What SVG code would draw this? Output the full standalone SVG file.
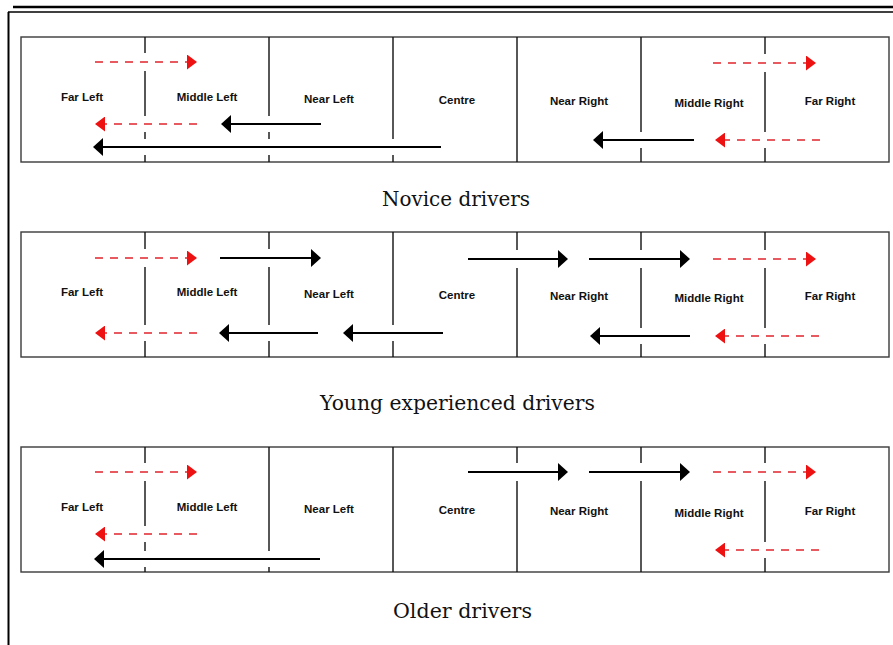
<svg xmlns="http://www.w3.org/2000/svg" width="893" height="645" viewBox="0 0 893 645">
<style>
.frame{stroke:#000;fill:none}
.panel{fill:#fff;stroke:#3a3a3a;stroke-width:1.4}
.div{stroke:#111;stroke-width:1.4}
.halo{fill:#fff}
.blk{stroke:#000;stroke-width:2;fill:none;marker-end:url(#ahB)}
.red{stroke:#e0242c;stroke-width:1.6;fill:none;stroke-dasharray:8 7;marker-end:url(#ahR)}
.lane{font-family:"Liberation Sans",Arial,sans-serif;font-weight:bold;font-size:11.5px;fill:#111;text-anchor:middle}
.title{font-family:"DejaVu Serif","Liberation Serif",serif;font-size:20px;fill:#111}
</style>
<defs>
<marker id="ahB" markerUnits="userSpaceOnUse" markerWidth="11" markerHeight="18" refX="4" refY="9" orient="auto"><path d="M0,0 L10,9 L0,18 z" fill="#000"/></marker>
<marker id="ahR" markerUnits="userSpaceOnUse" markerWidth="11" markerHeight="15" refX="4" refY="7.5" orient="auto"><path d="M0,0 L10,7.5 L0,15 z" fill="#ee1111"/></marker>
</defs>
<rect width="893" height="645" fill="#fff"/>
<g id="frame" class="frame">
<line x1="13" y1="7" x2="893" y2="7" stroke-width="2.6"/>
<line x1="8" y1="12" x2="893" y2="12" stroke-width="1.3"/>
<line x1="8.5" y1="12" x2="8.5" y2="645" stroke-width="2"/>
</g>
<g id="panel-novice">
<rect class="panel" x="21" y="37" width="868" height="125"/>
<path class="div" d="M145,37V162M269,37V162M393,37V162M517,37V162M641,37V162M765,37V162"/>
</g>
<g id="panel-young">
<rect class="panel" x="21" y="232" width="868" height="125"/>
<path class="div" d="M145,232V357M269,232V357M393,232V357M517,232V357M641,232V357M765,232V357"/>
</g>
<g id="panel-older">
<rect class="panel" x="21" y="447" width="868" height="125"/>
<path class="div" d="M145,447V572M269,447V572M393,447V572M517,447V572M641,447V572M765,447V572"/>
</g>
<g id="connectors">
<g class="halo">
<rect x="93" y="53" width="106" height="18"/>
<rect x="93" y="116" width="106" height="16"/>
<rect x="219" y="116" width="104" height="16"/>
<rect x="91" y="139" width="352" height="16"/>
<rect x="711" y="54" width="107" height="18"/>
<rect x="591" y="132" width="105" height="16"/>
<rect x="713" y="132" width="109" height="16"/>
<rect x="93" y="249" width="106" height="18"/>
<rect x="218" y="249" width="105" height="18"/>
<rect x="93" y="325" width="106" height="16"/>
<rect x="217" y="325" width="103" height="16"/>
<rect x="341" y="325" width="104" height="16"/>
<rect x="466" y="250" width="104" height="18"/>
<rect x="587" y="250" width="105" height="18"/>
<rect x="711" y="250" width="107" height="18"/>
<rect x="588" y="328" width="104" height="16"/>
<rect x="713" y="328" width="108" height="16"/>
<rect x="93" y="463" width="106" height="18"/>
<rect x="93" y="526" width="106" height="16"/>
<rect x="92" y="551" width="230" height="16"/>
<rect x="466" y="463" width="104" height="18"/>
<rect x="587" y="463" width="105" height="18"/>
<rect x="711" y="463" width="107" height="18"/>
<rect x="713" y="542" width="108" height="16"/>
</g>
<g id="arrows-novice">
<line class="red" x1="95" y1="62" x2="191" y2="62"/>
<line class="red" x1="197" y1="124" x2="101" y2="124"/>
<line class="blk" x1="321" y1="124" x2="227" y2="124"/>
<line class="blk" x1="441" y1="147" x2="99" y2="147"/>
<line class="red" x1="713" y1="63" x2="810" y2="63"/>
<line class="blk" x1="694" y1="140" x2="599" y2="140"/>
<line class="red" x1="820" y1="140" x2="721" y2="140"/>
</g>
<g id="arrows-young">
<line class="red" x1="95" y1="258" x2="191" y2="258"/>
<line class="blk" x1="220" y1="258" x2="315" y2="258"/>
<line class="red" x1="197" y1="333" x2="101" y2="333"/>
<line class="blk" x1="318" y1="333" x2="225" y2="333"/>
<line class="blk" x1="443" y1="333" x2="349" y2="333"/>
<line class="blk" x1="468" y1="259" x2="562" y2="259"/>
<line class="blk" x1="589" y1="259" x2="684" y2="259"/>
<line class="red" x1="713" y1="259" x2="810" y2="259"/>
<line class="blk" x1="690" y1="336" x2="596" y2="336"/>
<line class="red" x1="819" y1="336" x2="721" y2="336"/>
</g>
<g id="arrows-older">
<line class="red" x1="95" y1="472" x2="191" y2="472"/>
<line class="red" x1="197" y1="534" x2="101" y2="534"/>
<line class="blk" x1="320" y1="559" x2="100" y2="559"/>
<line class="blk" x1="468" y1="472" x2="562" y2="472"/>
<line class="blk" x1="589" y1="472" x2="684" y2="472"/>
<line class="red" x1="713" y1="472" x2="810" y2="472"/>
<line class="red" x1="819" y1="550" x2="721" y2="550"/>
</g>
</g>
<g id="lanes-novice" class="lane">
<g id="n-far-left"><text x="82" y="101">Far Left</text></g>
<g id="n-middle-left"><text x="207" y="101">Middle Left</text></g>
<g id="n-near-left"><text x="329" y="103">Near Left</text></g>
<g id="n-centre"><text x="457" y="104">Centre</text></g>
<g id="n-near-right"><text x="579" y="105">Near Right</text></g>
<g id="n-middle-right"><text x="709" y="107">Middle Right</text></g>
<g id="n-far-right"><text x="830" y="105">Far Right</text></g>
</g>
<g id="lanes-young" class="lane">
<g id="y-far-left"><text x="82" y="296">Far Left</text></g>
<g id="y-middle-left"><text x="207" y="296">Middle Left</text></g>
<g id="y-near-left"><text x="329" y="298">Near Left</text></g>
<g id="y-centre"><text x="457" y="299">Centre</text></g>
<g id="y-near-right"><text x="579" y="300">Near Right</text></g>
<g id="y-middle-right"><text x="709" y="302">Middle Right</text></g>
<g id="y-far-right"><text x="830" y="300">Far Right</text></g>
</g>
<g id="lanes-older" class="lane">
<g id="o-far-left"><text x="82" y="511">Far Left</text></g>
<g id="o-middle-left"><text x="207" y="511">Middle Left</text></g>
<g id="o-near-left"><text x="329" y="513">Near Left</text></g>
<g id="o-centre"><text x="457" y="514">Centre</text></g>
<g id="o-near-right"><text x="579" y="515">Near Right</text></g>
<g id="o-middle-right"><text x="709" y="517">Middle Right</text></g>
<g id="o-far-right"><text x="830" y="515">Far Right</text></g>
</g>
<g id="titles" class="title">
<text x="382" y="206" textLength="148" lengthAdjust="spacingAndGlyphs">Novice drivers</text>
<text x="320" y="410" textLength="275" lengthAdjust="spacingAndGlyphs">Young experienced drivers</text>
<text x="393" y="618" textLength="139" lengthAdjust="spacingAndGlyphs">Older drivers</text>
</g>
</svg>
